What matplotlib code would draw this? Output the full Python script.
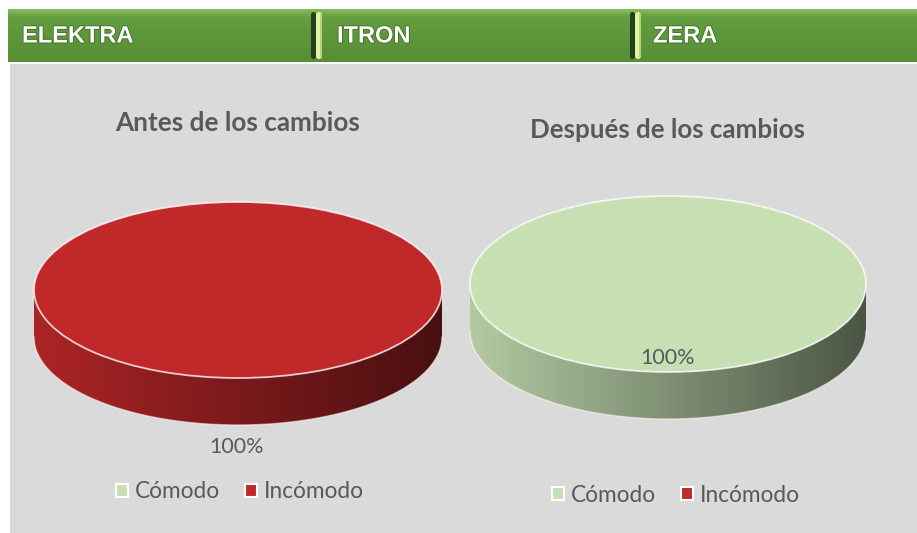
import numpy as np
import matplotlib
matplotlib.use("Agg")
import matplotlib.pyplot as plt
from matplotlib.patches import Patch, Polygon, Rectangle, FancyBboxPatch
from matplotlib.colors import to_rgb
import matplotlib.patheffects as pe

# ---------------- data ----------------
tabs = ["ELEKTRA", "ITRON", "ZERA"]
categories = ["Cómodo", "Incómodo"]
colors = ["#c6e0b4", "#c0282a"]
chart_titles = ["Antes de los cambios", "Después de los cambios"]
antes = [0, 100]
despues = [100, 0]

plt.rcParams["font.family"] = ["Lato", "DejaVu Sans"]

W, H = 917, 533
fig = plt.figure(figsize=(W / 100, H / 100), dpi=100)
fig.patch.set_facecolor("white")
bg = fig.add_axes([0, 0, 1, 1])
bg.set_xlim(0, W)
bg.set_ylim(H, 0)
bg.axis("off")

# gray panel
bg.add_patch(Rectangle((10, 64), W - 10, H - 64, facecolor="#d9d9d9", edgecolor="none", zorder=0))
# subtle chart areas
bg.add_patch(Rectangle((28, 102), 424, 420, facecolor="#dadada", edgecolor="none", zorder=0.1))
bg.add_patch(Rectangle((458, 102), 452, 420, facecolor="#dadada", edgecolor="none", zorder=0.1))

# header gradient
n = 60
t = np.linspace(0, 1, n)
c_top = np.array(to_rgb("#86bd62"))
c_mid = np.array(to_rgb("#639e3f"))
c_bot = np.array(to_rgb("#578e36"))
rows = []
for v in t:
    if v < 0.15:
        f = v / 0.15
        rows.append(c_top * (1 - f) + c_mid * f)
    else:
        f = (v - 0.15) / 0.85
        rows.append(c_mid * (1 - f) + c_bot * f)
img = np.array(rows)[:, None, :]
bg.imshow(img, extent=(8, W, 62, 9), aspect="auto", zorder=1, origin="upper")

# separators
for sx in (311, 630):
    bg.add_patch(FancyBboxPatch((sx, 12), 5, 47, boxstyle="round,pad=0,rounding_size=2.5",
                                facecolor="#22401a", edgecolor="none", zorder=2))
    bg.add_patch(FancyBboxPatch((sx + 5, 12), 6, 47, boxstyle="round,pad=0,rounding_size=3",
                                facecolor="#e2f1a4", edgecolor="none", zorder=2))
    bg.add_patch(Rectangle((sx + 9, 14), 2, 43, facecolor="#b7d474", edgecolor="none", zorder=2.1))

tab_x = [22, 337, 653]
for tx, name in zip(tab_x, tabs):
    bg.text(tx, 36, name, ha="left", va="center", color="white", fontsize=17,
            fontweight="bold", family=["Liberation Sans", "DejaVu Sans"], zorder=3,
            path_effects=[pe.withStroke(linewidth=1.2, foreground="#3f6f27")])


def draw_pie(values, title, cx, cy, rx, ry, depth, title_y, title_fs, label_xy, legend_xy):
    pad = 8
    x0 = cx - rx - pad
    x1 = cx + rx + pad
    y_top = cy - ry - pad
    y_bot = cy + ry + depth + pad
    ax = fig.add_axes([x0 / W, 1 - y_bot / H, (x1 - x0) / W, (y_bot - y_top) / H])
    ax.patch.set_visible(False)
    wedges, _ = ax.pie(values, colors=colors, startangle=0, counterclock=True, radius=1,
                       wedgeprops=dict(edgecolor=(1, 1, 1, 0.75), linewidth=1.3))
    dd = depth / ry
    total = float(sum(values))
    grad_x = np.linspace(0, 1, 256)
    for w, v, c in zip(wedges, values, colors):
        if v <= 0:
            w.set_visible(False)
            continue
        w.set_zorder(2)
        t1, t2 = w.theta1, w.theta2
        rgb = np.array(to_rgb(c))
        for off in (-360, 0, 360):
            a = max(t1, 180 + off)
            b = min(t2, 360 + off)
            if b > a:
                th = np.radians(np.linspace(a, b, 300))
                xs = np.cos(th)
                ys = np.sin(th)
                verts = np.concatenate([np.c_[xs, ys], np.c_[xs[::-1], ys[::-1] - dd]])
                poly = Polygon(verts, closed=True, facecolor="none", edgecolor="none")
                ax.add_patch(poly)
                fac = 0.9 - 0.52 * grad_x
                gimg = (rgb[None, :] * fac[:, None])[None, :, :]
                im = ax.imshow(gimg, extent=(-1, 1, -1 - dd, 0), aspect="auto", zorder=1,
                               origin="lower", interpolation="bilinear")
                im.set_clip_path(poly)
                ax.plot(xs, ys - dd, color=(1, 1, 1, 0.55), lw=1.0, zorder=1.5)
        pct = v / total * 100
        ax.text(label_xy[0], label_xy[1], f"{pct:.0f}%", ha="center", va="center",
                fontsize=15.5, color="#595959", zorder=10, transform=bg.transData,
                clip_on=False)
    ax.set_aspect("auto")
    ax.set_xlim(-1 - pad / rx, 1 + pad / rx)
    ax.set_ylim(-1 - (depth + pad) / ry, 1 + pad / ry)
    ax.axis("off")

    bg.text(cx, title_y, title, ha="center", va="center", fontsize=title_fs, fontweight="bold",
            color="#595959", zorder=5)
    handles = [Patch(facecolor=c, edgecolor="white", linewidth=1.5) for c in colors]
    ax.legend(handles, categories, loc="center", bbox_to_anchor=legend_xy,
              bbox_transform=bg.transData, ncol=2, frameon=False, fontsize=16.3,
              labelcolor="#595959", handlelength=0.55, handleheight=0.55,
              handletextpad=0.3, columnspacing=1.1, borderaxespad=0)


draw_pie(antes, chart_titles[0], 238, 290, 204, 88, 47, 123, 18.8, (237, 447), (240, 492))
draw_pie(despues, chart_titles[1], 668, 284, 198, 88, 47, 130, 18.6, (668, 358), (676, 495))

fig.savefig("out.png", dpi=100, facecolor=fig.get_facecolor())
